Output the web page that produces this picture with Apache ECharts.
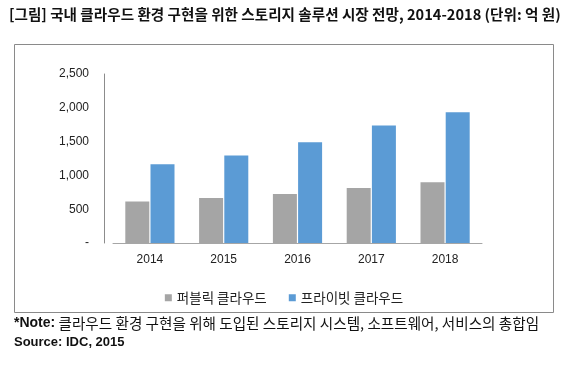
<!DOCTYPE html>
<html><head><meta charset="utf-8">
<script src="https://cdn.jsdelivr.net/npm/echarts@6/dist/echarts.min.js"></script>
<style>html,body{margin:0;padding:0;background:#fff}#c{width:568px;height:371px}</style>
</head><body><div id="c"></div>
<script>
const categories = ['2014', '2015', '2016', '2017', '2018'];
const publicCloud = [615, 665, 725, 815, 900];
const privateCloud = [1165, 1295, 1490, 1740, 1935];
const seriesNames = ['퍼블릭 클라우드', '프라이빗 클라우드'];
const yTicks = [0, 500, 1000, 1500, 2000, 2500];
const titleText = '[그림] 국내 클라우드 환경 구현을 위한 스토리지 솔루션 시장 전망, 2014-2018 (단위: 억 원)';
const noteBold = '*Note:';
const noteText = ' 클라우드 환경 구현을 위해 도입된 스토리지 시스템, 소프트웨어, 서비스의 총합임';
const sourceText = 'Source: IDC, 2015';

const KR = '"Noto Sans CJK KR", "Noto Sans", sans-serif';
const chart = echarts.init(document.getElementById('c'));
chart.setOption({
  animation: false,
  backgroundColor: '#fff',
  title: {
    text: titleText, left: 4, top: 2,
    textStyle: {fontFamily: KR, fontSize: 14.6, fontWeight: 'bold', color: '#111'}
  },
  legend: {
    data: seriesNames, top: 286, left: 'center', itemWidth: 7, itemHeight: 7, itemGap: 22,
    icon: 'rect',
    textStyle: {fontFamily: KR, fontSize: 13.5, color: '#222'}
  },
  grid: {left: 113, right: 86, top: 74, height: 169, containLabel: false},
  xAxis: {
    type: 'category', data: categories,
    axisLine: {lineStyle: {color: '#a6a6a6', width: 1}},
    axisTick: {show: false},
    axisLabel: {fontFamily: 'Liberation Sans, sans-serif', fontSize: 12, color: '#222', margin: 11}
  },
  yAxis: {
    type: 'value', min: 0, max: 2500, interval: 500, offset: 9,
    axisLine: {show: true, lineStyle: {color: '#8c8c8c'}},
    axisTick: {show: false},
    splitLine: {show: false},
    axisLabel: {fontFamily: 'Liberation Sans, sans-serif', fontSize: 12, color: '#222', margin: 15,
      formatter: v => yTicks.includes(v) ? (v === 0 ? '-' : v.toLocaleString('en-US')) : ''}
  },
  series: [
    {name: seriesNames[0], type: 'bar', data: publicCloud, barWidth: 24, barGap: '5%',
     itemStyle: {color: '#a5a5a5'}},
    {name: seriesNames[1], type: 'bar', data: privateCloud, barWidth: 24,
     itemStyle: {color: '#5b9bd5'}}
  ],
  graphic: [
    {type: 'rect', shape: {x: 14.5, y: 44.5, width: 539, height: 268}, style: {fill: 'none', stroke: '#8a8a8a', lineWidth: 1}, silent: true},
    {type: 'text', left: 14, top: 316, style: {
      text: '{b|' + noteBold + '}{n|' + noteText + '}',
      rich: {
        b: {fontFamily: 'Liberation Sans, Arial, sans-serif', fontWeight: 'bold', fontSize: 14, fill: '#111'},
        n: {fontFamily: KR, fontSize: 14.6, fill: '#111'}
      }
    }},
    {type: 'text', left: 14, top: 336, style: {
      text: sourceText, fontFamily: 'Liberation Sans, Arial, sans-serif', fontWeight: 'bold', fontSize: 13, fill: '#111'
    }}
  ]
});
</script></body></html>
